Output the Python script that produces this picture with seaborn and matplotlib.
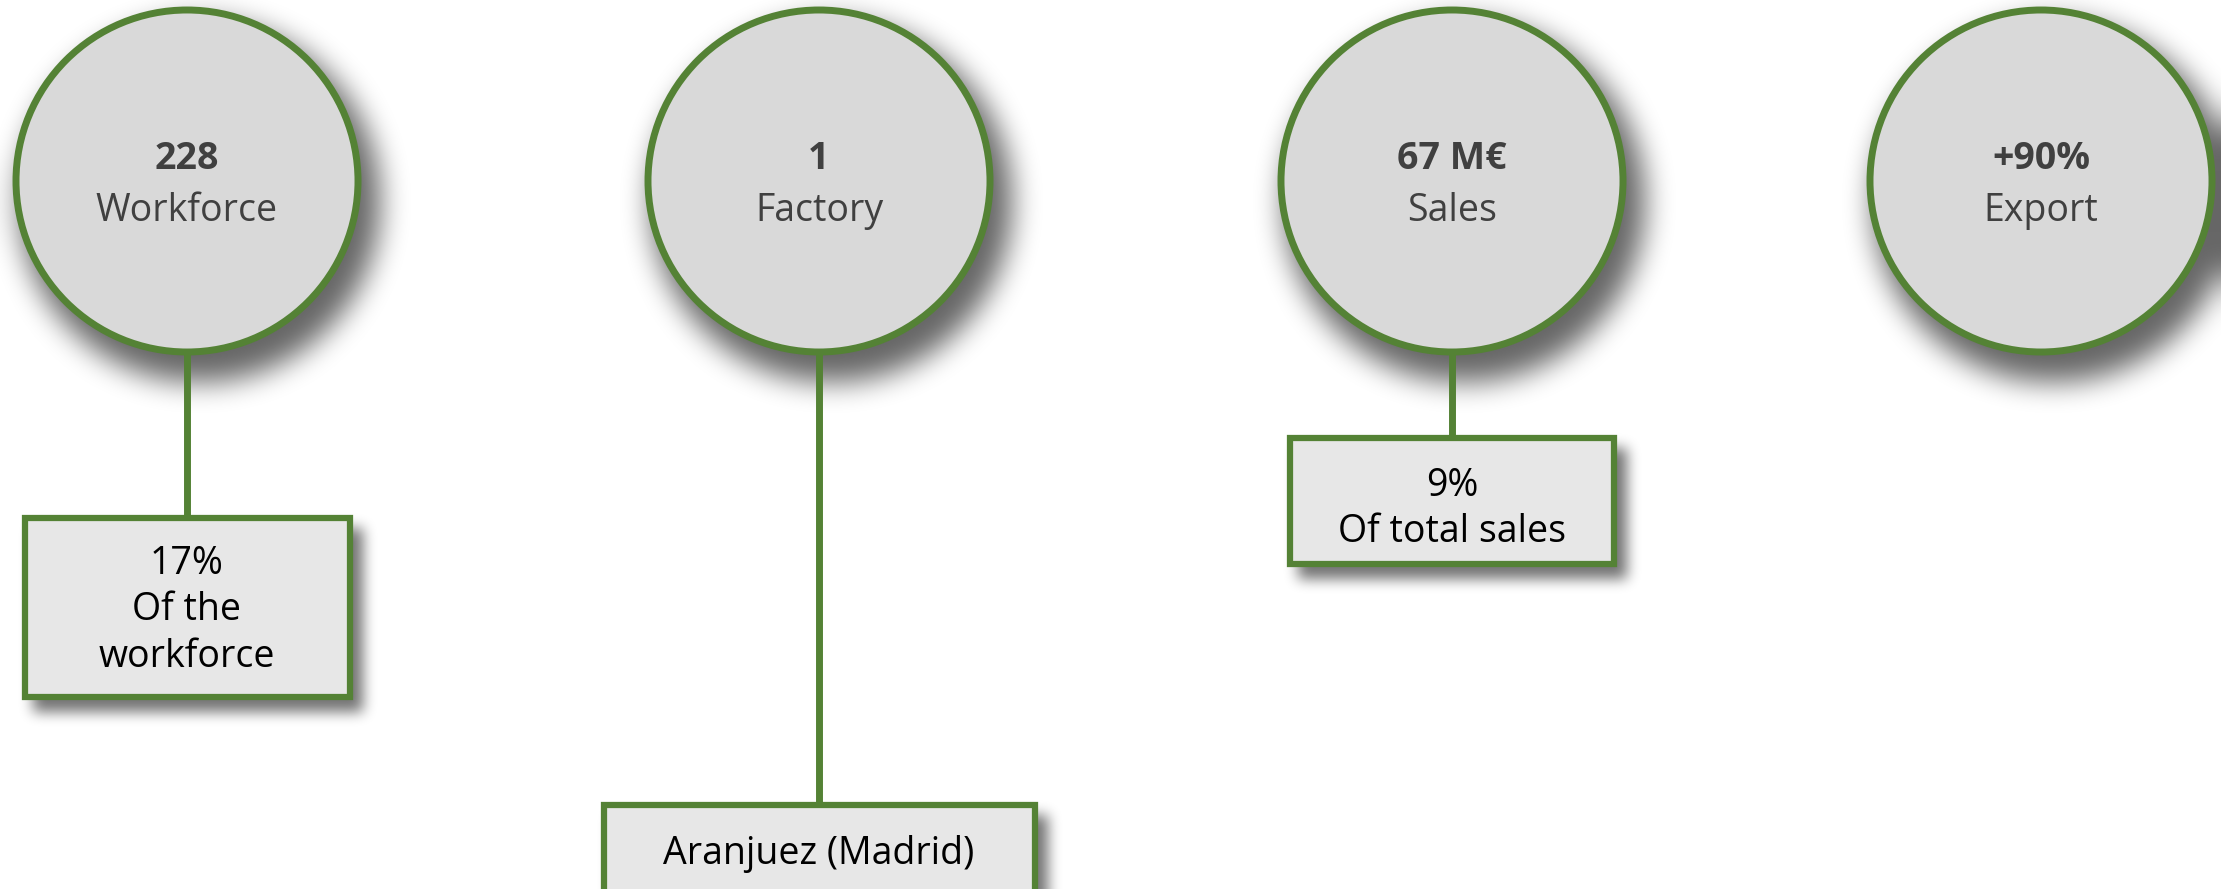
import matplotlib
matplotlib.use('Agg')
import numpy as np
import pandas as pd
import seaborn as sns
import matplotlib.pyplot as plt
from matplotlib.patches import Circle, Rectangle

# --- data ---
values = ["228", "1", "67 M€", "+90%"]
labels = ["Workforce", "Factory", "Sales", "Export"]
details = ["17%\nOf the\nworkforce", "Aranjuez (Madrid)", "9%\nOf total sales", None]

# --- layout (pixels, figure is 2221x889) ---
W, H = 2221, 889
circle_x = [187, 819, 1452, 2041]
circle_y = 181
radius = 171
box_boxes = [(25, 518, 350, 697), (604, 805, 1035, 900), (1290, 438, 1614, 564), None]

GREEN = "#548235"
CIRCLE_FILL = "#D9D9D9"
BOX_FILL = "#E7E7E7"

sns.set_theme(style="white")
plt.rcParams['font.family'] = ['Open Sans', 'DejaVu Sans']

fig = plt.figure(figsize=(W / 100, H / 100), dpi=100)
ax = fig.add_axes([0, 0, 1, 1])
ax.set_xlim(0, W)
ax.set_ylim(H, 0)
ax.axis('off')


def box_blur(a, r, axis):
    c = np.cumsum(np.pad(a, [(r + 1, r) if i == axis else (0, 0) for i in range(2)], mode='edge'), axis=axis)
    if axis == 0:
        return (c[2 * r + 1:] - c[:-2 * r - 1]) / (2 * r + 1)
    return (c[:, 2 * r + 1:] - c[:, :-2 * r - 1]) / (2 * r + 1)


def blur(a, r):
    for _ in range(3):
        a = box_blur(a, r, 0)
        a = box_blur(a, r, 1)
    return a


# soft drop shadows, blurred masks
yy, xx = np.mgrid[0:H, 0:W]
cmask = np.zeros((H, W))
for cx in circle_x:
    cmask[(xx - cx - 12) ** 2 + (yy - circle_y - 20) ** 2 <= (radius + 10) ** 2] = 1
bmask = np.zeros((H, W))
for b in box_boxes:
    if b is None:
        continue
    x0, y0, x1, y1 = b
    bmask[(yy >= y0 + 10) & (yy <= y1 + 14) & (xx >= x0 + 8) & (xx <= x1 + 12)] = 1

mask = np.maximum(blur(cmask, 13) * 0.6, blur(bmask, 6) * 0.55)
shadow = np.zeros((H, W, 4))
shadow[..., 3] = mask
ax.imshow(shadow, extent=(0, W, H, 0), zorder=1, interpolation='bilinear')

df = pd.DataFrame({"x": circle_x, "value": values, "label": labels, "detail": details})

for i, row in df.iterrows():
    cx = row["x"]
    b = box_boxes[i]
    if b is not None:
        x0, y0, x1, y1 = b
        ax.plot([cx, cx], [circle_y + radius, y0], color=GREEN, lw=5, zorder=2, solid_capstyle='butt')
        ax.add_patch(Rectangle((x0, y0), x1 - x0, y1 - y0, facecolor=BOX_FILL,
                               edgecolor=GREEN, lw=4.5, zorder=3))
        if i == 1:
            ty = 854
        elif i == 2:
            ty = (y0 + y1) / 2 + 8
        else:
            ty = (y0 + y1) / 2 + 3
        ax.text(cx, ty, row["detail"], ha='center', va='center', fontsize=27,
                color='black', linespacing=1.3, zorder=4)
    ax.add_patch(Circle((cx, circle_y), radius, facecolor=CIRCLE_FILL, edgecolor=GREEN,
                        lw=5, zorder=3))
    ax.text(cx, circle_y - 22, row["value"], ha='center', va='center', fontsize=27,
            fontweight='bold', color='#404040', zorder=4)
    ax.text(cx, circle_y + 30, row["label"], ha='center', va='center', fontsize=27,
            color='#404040', zorder=4)

fig.savefig("out.png", dpi=100, facecolor='white')
